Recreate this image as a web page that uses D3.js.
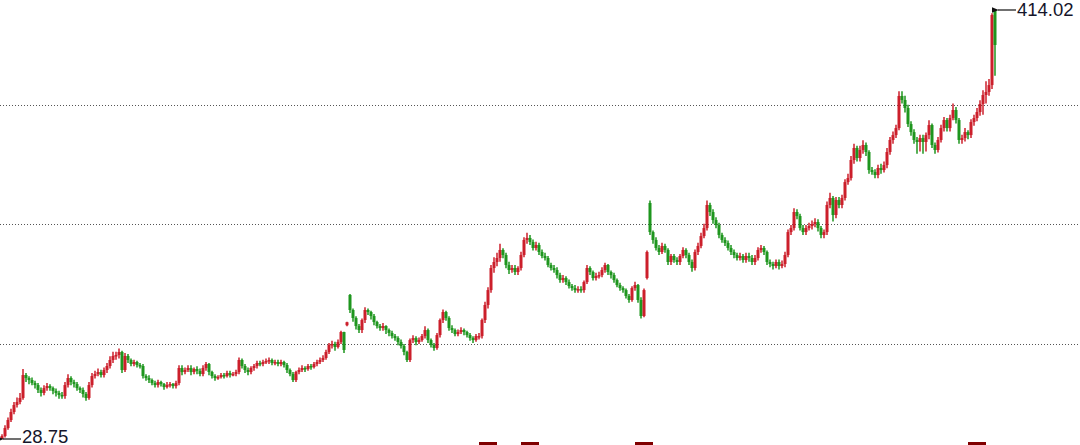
<!DOCTYPE html>
<html>
<head>
<meta charset="utf-8">
<script src="https://cdn.jsdelivr.net/npm/d3@7"></script>
<style>
  html, body { margin: 0; padding: 0; background: #fff; overflow: hidden; }
  svg { display: block; }
</style>
</head>
<body>
<svg id="chart" width="1080" height="445"></svg>
<script>
// ---- Data ----
// Closing prices, one candle each, oldest first.
const closes = [
  31.4, 38.6, 45.8, 53.0, 59.3, 62.0, 65.6, 86.2, 83.5, 81.7,
  79.0, 77.2, 72.8, 70.1, 74.5, 76.3, 74.5, 71.9, 70.1, 68.3,
  67.4, 77.2, 83.5, 79.9, 78.1, 74.5, 72.8, 69.2, 65.6, 77.2,
  85.3, 87.1, 88.9, 86.2, 90.7, 94.3, 99.7, 103.3, 104.2, 106.9,
  90.7, 103.3, 99.7, 96.1, 97.9, 95.2, 94.3, 85.3, 83.5, 81.7,
  79.0, 77.2, 79.9, 78.1, 75.4, 77.2, 78.1, 76.3, 79.0, 92.5,
  88.9, 90.7, 92.5, 88.9, 91.6, 89.8, 87.1, 92.5, 96.1, 88.9,
  85.3, 83.5, 84.4, 86.2, 85.3, 88.0, 86.2, 87.1, 88.9, 99.7,
  94.3, 90.7, 88.9, 92.5, 94.3, 97.0, 96.1, 97.9, 98.8, 99.7,
  97.0, 97.9, 96.1, 97.9, 95.2, 90.7, 87.1, 81.7, 88.9, 90.7,
  92.5, 91.6, 94.3, 93.4, 96.1, 97.9, 99.7, 101.5, 106.9, 113.2,
  114.1, 111.4, 115.9, 124.8, 108.7, 133.6, 144.6, 137.4, 130.2, 126.6,
  135.6, 144.6, 142.8, 139.2, 133.8, 130.2, 128.4, 130.2, 126.6, 124.0,
  121.2, 119.4, 115.9, 112.3, 106.9, 99.7, 117.6, 119.4, 115.9, 117.6,
  121.2, 126.6, 117.6, 113.2, 110.5, 122.1, 135.6, 142.8, 137.4, 128.4,
  126.6, 123.0, 124.8, 126.6, 124.8, 122.1, 119.4, 117.6, 121.2, 121.2,
  135.6, 149.1, 162.5, 182.3, 187.7, 191.3, 198.5, 194.0, 185.0, 180.5,
  182.3, 178.7, 182.3, 194.0, 207.5, 209.3, 205.7, 200.3, 203.0, 196.7,
  193.1, 191.3, 185.0, 182.3, 180.5, 176.0, 171.5, 173.3, 169.7, 166.1,
  164.3, 162.5, 163.4, 162.5, 169.7, 182.3, 178.7, 173.3, 175.1, 176.0,
  180.5, 185.0, 178.7, 176.0, 171.5, 167.0, 164.3, 162.5, 157.2, 153.6,
  164.3, 167.0, 153.6, 139.2, 162.5, 196.7, 214.6, 207.5, 200.3, 196.7,
  202.1, 198.5, 187.7, 193.1, 189.5, 187.7, 193.1, 198.5, 194.0, 187.7,
  182.3, 196.7, 202.1, 211.0, 218.2, 238.9, 232.6, 225.4, 220.9, 212.0,
  207.5, 204.8, 200.3, 196.7, 194.0, 191.3, 193.1, 189.5, 193.1, 191.3,
  187.7, 191.3, 198.5, 200.3, 196.7, 187.7, 185.9, 184.1, 187.7, 184.1,
  185.9, 194.0, 214.6, 218.2, 232.6, 229.0, 218.2, 214.6, 218.2, 220.0,
  221.8, 223.6, 218.2, 212.0, 214.6, 238.9, 245.2, 229.9, 243.4, 238.9,
  245.2, 259.5, 263.1, 279.3, 290.1, 281.1, 288.3, 292.8, 286.5, 270.3,
  268.5, 265.8, 272.1, 270.3, 274.8, 286.5, 297.3, 301.7, 308.0, 336.8,
  333.2, 326.0, 311.6, 304.4, 297.3, 295.5, 299.0, 295.5, 301.7, 310.7,
  292.8, 288.3, 297.3, 308.0, 315.2, 308.0, 317.0, 324.2, 315.2, 297.3,
  299.0, 304.4, 301.7, 313.4, 317.0, 322.4, 329.6, 337.7, 340.4, 346.6,
  409.5, 382.6
];
// Highest price of each candle.
const highs = [
  33, 41, 48, 56, 62, 66, 70, 91.6, 88, 85,
  84, 81, 79, 75, 77, 79, 78, 76, 74, 72,
  71, 80, 87, 85, 82, 80, 76, 75, 71, 80,
  88, 90, 92, 91, 93, 97, 103, 107, 107, 110,
  108, 106, 105, 101, 100, 99, 97, 96, 87, 86,
  83, 81, 82, 81, 79, 80, 80, 79, 81, 95,
  95, 93, 95, 95, 93, 94, 92, 95, 98, 97,
  90, 87, 86, 88, 88, 90, 90, 89, 91, 102,
  101, 96, 93, 94, 96, 99, 99, 100, 101, 102,
  101, 100, 100, 100, 99, 97, 92, 89, 90, 93,
  95, 94, 96, 96, 98, 100, 102, 104, 109, 115,
  117, 116, 118, 126, 125, 134, 159, 146, 139, 132,
  137, 147, 146, 144, 141, 135, 132, 133, 131, 128,
  126, 123, 121, 118, 114, 108, 119, 122, 121, 120,
  123, 130, 128, 119, 115, 124, 137, 145, 144, 139,
  131, 128, 127, 129, 128, 126, 124, 121, 123, 124,
  137, 152, 165, 185, 192, 196, 204, 200, 196, 188,
  185, 185, 184, 197, 210, 214, 212, 208, 206, 205,
  199, 196, 193, 187, 185, 183, 178, 176, 175, 172,
  168, 167, 166, 166, 171, 185, 184, 180, 178, 179,
  183, 187, 186, 180, 178, 173, 169, 166, 164, 159,
  166, 170, 168, 156, 164, 198, 243, 216, 210, 203,
  205, 204, 200, 195, 195, 192, 195, 201, 200, 196,
  190, 199, 205, 214, 222, 243, 241, 235, 228, 223,
  214, 210, 207, 203, 199, 196, 196, 195, 196, 196,
  194, 194, 201, 203, 202, 198, 190, 188, 190, 190,
  189, 197, 217, 221, 236, 235, 231, 221, 221, 223,
  225, 227, 226, 220, 217, 242, 250, 247, 246, 246,
  248, 262, 267, 283, 294, 292, 292, 297, 295, 288,
  273, 271, 275, 276, 278, 290, 300, 305, 311, 341,
  341, 337, 329, 314, 307, 300, 302, 302, 304, 315,
  312, 295, 300, 311, 318, 317, 320, 330, 327, 317,
  302, 308, 306, 316, 320, 326, 333, 342, 350, 352,
  411, 414.02
];
// Lowest price of each candle.
const lows = [
  28.75, 30, 37, 44, 51, 57, 60, 64, 80, 78,
  77, 74, 70, 67, 68, 72, 72, 69, 67, 65,
  65, 65, 75, 77, 75, 72, 70, 66, 63, 64,
  75, 83, 85, 84, 84, 88, 92, 97, 100, 101,
  88, 89, 97, 94, 94, 93, 92, 83, 81, 79,
  77, 75, 75, 76, 73, 74, 75, 74, 74, 77,
  86, 87, 89, 86, 87, 87, 85, 85, 90, 86,
  83, 81, 82, 83, 83, 84, 84, 85, 85, 87,
  92, 88, 86, 87, 90, 92, 94, 94, 96, 96,
  95, 95, 94, 94, 93, 88, 85, 80, 80, 87,
  89, 89, 90, 91, 92, 94, 96, 98, 100, 105,
  110, 108, 110, 114, 106, 130, 142, 134, 127, 124,
  124, 133, 140, 136, 131, 128, 126, 126, 123, 121,
  119, 117, 113, 110, 104, 98, 98, 115, 113, 114,
  116, 119, 115, 111, 108, 109, 120, 133, 135, 126,
  124, 121, 121, 123, 122, 120, 117, 115, 116, 118,
  119, 133, 146, 160, 178, 184, 188, 191, 182, 177,
  178, 176, 176, 180, 192, 204, 203, 198, 198, 194,
  191, 189, 183, 180, 178, 173, 169, 169, 167, 164,
  162, 160, 160, 160, 160, 168, 176, 171, 171, 173,
  174, 178, 176, 173, 169, 165, 162, 160, 155, 151,
  152, 162, 151, 137, 138, 172, 212, 204, 198, 194,
  195, 196, 185, 185, 187, 185, 185, 191, 191, 185,
  179, 180, 194, 200, 209, 216, 229, 222, 218, 209,
  205, 202, 198, 194, 191, 189, 189, 187, 187, 188,
  185, 185, 189, 196, 194, 185, 183, 181, 182, 181,
  182, 183, 192, 212, 216, 226, 216, 212, 212, 216,
  217, 219, 215, 209, 209, 212, 236, 224, 227, 236,
  236, 243, 257, 261, 276, 278, 278, 285, 283, 267,
  266, 263, 263, 267, 268, 272, 284, 294, 299, 306,
  330, 322, 309, 301, 294, 285, 287, 285, 287, 298,
  290, 285, 286, 295, 305, 305, 305, 315, 312, 294,
  294, 296, 298, 299, 310, 314, 319, 320, 330, 337,
  343, 355
];
// Candles that opened with a gap (index -> opening price); others open at the previous close.
const gapOpenIndex = [0, 115, 116, 215, 216, 331];
const gapOpenValue = [28.75, 130.9, 158.1, 173.3, 240.7, 414.02];
// Price extremes that are annotated
const minPrice = 28.75;
const maxPrice = 414.02;
const minLabel = "28.75";
const maxLabel = "414.02";
// Dotted horizontal reference lines (prices)
const gridValues = [114.5, 221.5, 329.0];
// Event markers along the bottom edge (candle index)
const eventIndex = [162, 176, 214, 325];

// ---- Build candles ----
const candles = closes.map((c, i) => {
  const g = gapOpenIndex.indexOf(i);
  const o = g >= 0 ? gapOpenValue[g] : (i > 0 ? closes[i - 1] : c);
  return { i, open: o, close: c, high: highs[i], low: lows[i] };
});

const W = 1080, H = 445;
const svg = d3.select("#chart");

const x = d3.scaleLinear().domain([0, closes.length - 1]).range([2, 995]);
const y = d3.scaleLinear().domain([minPrice, maxPrice]).range([439, 10]);

// grid
svg.append("g").selectAll("line").data(gridValues).join("line")
  .attr("x1", 0).attr("x2", W)
  .attr("y1", d => Math.round(y(d)) + 0.5).attr("y2", d => Math.round(y(d)) + 0.5)
  .attr("stroke", "#555").attr("stroke-width", 1)
  .attr("stroke-dasharray", "1,2");

// candles
const up = "#cc1f2b", down = "#1e961e";
const col = d => d.close >= d.open ? up : down;
const g = svg.append("g");
g.selectAll("line").data(candles).join("line")
  .attr("x1", d => x(d.i)).attr("x2", d => x(d.i))
  .attr("y1", d => y(d.high)).attr("y2", d => y(d.low))
  .attr("stroke", col).attr("stroke-width", 1.5);
g.selectAll("rect").data(candles).join("rect")
  .attr("x", d => x(d.i) - 1.5)
  .attr("width", 3)
  .attr("y", d => Math.min(y(d.open), y(d.close)))
  .attr("height", d => Math.max(1.5, Math.abs(y(d.open) - y(d.close))))
  .attr("fill", col);

// event markers (clipped at bottom edge)
svg.append("g").selectAll("rect").data(eventIndex).join("rect")
  .attr("x", d => x(d) - 9).attr("y", 442)
  .attr("width", 18).attr("height", 14)
  .attr("fill", "#800000");

// annotations
const defs = svg.append("defs");
defs.append("marker").attr("id", "ah").attr("viewBox", "0 0 10 10")
  .attr("refX", 1).attr("refY", 5).attr("markerWidth", 6).attr("markerHeight", 6)
  .attr("orient", "auto-start-reverse")
  .append("path").attr("d", "M10,1 L0,5 L10,9 Z").attr("fill", "#111");

function annotate(tipX, tipY, label, dy) {
  svg.append("line")
    .attr("x1", tipX + 1).attr("x2", tipX + 19)
    .attr("y1", tipY).attr("y2", tipY)
    .attr("stroke", "#111").attr("stroke-width", 1.2)
    .attr("marker-start", "url(#ah)");
  svg.append("text")
    .attr("x", tipX + 20).attr("y", tipY + dy)
    .attr("font-family", "Liberation Sans, Arial, sans-serif")
    .attr("font-size", 18.5).attr("fill", "#15152a")
    .text(label);
}
annotate(x(closes.length - 1) + 2, Math.round(y(maxPrice)), maxLabel, 6);
annotate(x(0), Math.round(y(minPrice)), minLabel, 4);
</script>
</body>
</html>
